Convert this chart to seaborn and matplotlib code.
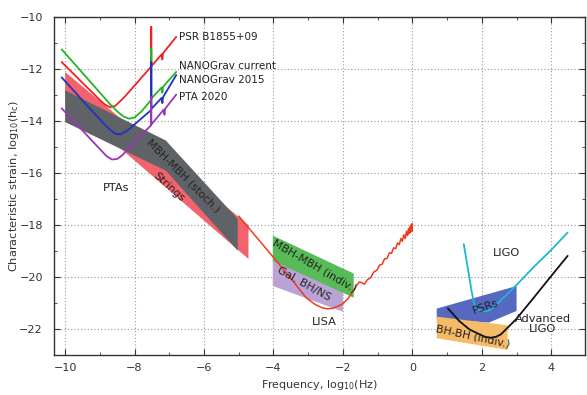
import numpy as np
import pandas as pd
import matplotlib
matplotlib.use("Agg")
import matplotlib.pyplot as plt
import seaborn as sns
from matplotlib.ticker import MultipleLocator

### gravitational wave spectrum: log10(f) vs log10(hc)

# PTA sensitivity curves
psr_x = [-10.1, -9.4, -9.0, -8.85, -8.7, -8.55, -8.3, -7.525, -7.52, -7.515, -7.22, -7.2, -7.18, -6.8]
psr_y = [-11.72, -12.65, -13.18, -13.36, -13.46, -13.4, -13.08, -11.9, -10.36, -11.88, -11.42, -11.62, -11.38, -10.75]

ng_cur_x = [-10.1, -9.3, -8.7, -8.45, -8.3, -8.15, -8.0, -7.8, -7.525, -7.52, -7.515, -7.22, -7.2, -7.18, -6.8]
ng_cur_y = [-11.23, -12.44, -13.35, -13.68, -13.83, -13.9, -13.85, -13.62, -13.18, -11.19, -13.12, -12.7, -12.9, -12.67, -12.1]

ng15_x = [-10.1, -9.3, -8.9, -8.7, -8.55, -8.4, -8.2, -7.525, -7.52, -7.515, -7.22, -7.2, -7.18, -6.8]
ng15_y = [-12.31, -13.49, -14.07, -14.33, -14.48, -14.5, -14.35, -13.57, -11.71, -13.52, -13.1, -13.3, -13.07, -12.22]

pta20_x = [-10.1, -9.3, -9.0, -8.8, -8.65, -8.5, -8.35, -7.525, -7.52, -7.515, -7.16, -7.14, -7.12, -6.8]
pta20_y = [-13.5, -14.64, -15.07, -15.35, -15.47, -15.45, -15.3, -14.15, -13.06, -14.12, -13.55, -13.75, -13.52, -12.97]

# LISA sensitivity curve
lisa_x = [-5.0, -4.0, -3.5, -3.06, -2.8, -2.6, -2.45, -2.3, -2.15, -2.0, -1.85, -1.7, -1.6, -1.52, -1.45, -1.38,
          -1.3, -1.2, -1.12, -1.02, -0.95, -0.87, -0.8, -0.73, -0.66, -0.6, -0.54, -0.48, -0.43, -0.38, -0.33,
          -0.29, -0.25, -0.21, -0.17, -0.14, -0.11, -0.09, -0.07, -0.05, -0.04, -0.03, -0.02, -0.01, 0.0]
lisa_y = [-17.65, -19.24, -20.05, -20.79, -21.05, -21.18, -21.22, -21.2, -21.12, -21.02, -20.82, -20.53, -20.3, -20.18, -20.22, -20.27,
          -20.10, -20.02, -19.81, -19.73, -19.54, -19.50, -19.29, -19.28, -19.06, -19.08, -18.87, -18.90, -18.68, -18.75, -18.51,
          -18.62, -18.37, -18.51, -18.23, -18.40, -18.13, -18.33, -18.06, -18.27, -17.99, -18.24, -17.95, -18.22, -17.96]

# ground based detectors
ligo_x = [1.48, 1.6, 1.7, 1.78, 1.88, 2.0, 2.15, 2.3, 2.5, 3.0, 3.5, 4.0, 4.47]
ligo_y = [-18.73, -19.7, -20.5, -21.05, -21.25, -21.3, -21.32, -21.2, -20.95, -20.3, -19.6, -18.95, -18.28]

aligo_x = [1.02, 1.35, 1.64, 1.93, 2.1, 2.26, 2.4, 2.55, 3.0, 3.5, 4.0, 4.47]
aligo_y = [-21.2, -21.69, -22.01, -22.2, -22.3, -22.33, -22.3, -22.2, -21.6, -20.78, -19.95, -19.18]

# source regions (polygons)
strings_x = [-10.0, -4.72, -4.72, -10.0]
strings_y = [-12.1, -18.0, -19.3, -13.2]
stoch_x = [-10.0, -7.1, -5.03, -5.03, -7.1, -10.0]
stoch_y = [-12.81, -14.74, -17.76, -18.98, -15.9, -14.03]
galbh_x = [-4.02, -2.0, -2.0, -4.02]
galbh_y = [-19.3, -20.3, -21.33, -20.34]
indiv_x = [-4.02, -1.69, -1.69, -4.02]
indiv_y = [-18.4, -19.86, -20.79, -19.37]
psrs_x = [0.70, 3.0, 3.0, 2.2, 0.70]
psrs_y = [-21.21, -20.34, -21.3, -21.75, -21.6]
bhbh_x = [0.70, 2.74, 2.74, 0.70]
bhbh_y = [-21.52, -21.85, -22.8, -22.35]

sns.set_style("ticks")
plt.rcParams['font.family'] = ['DejaVu Sans']

fig = plt.figure(figsize=(5.87, 3.95), dpi=100)
ax = fig.add_axes([0.092, 0.101, 0.9046, 0.855])

# bands
ax.fill(strings_x, strings_y, color='#f2636d', lw=0, zorder=1)
ax.fill(stoch_x, stoch_y, color='#5f6367', lw=0, zorder=2)
ax.fill(galbh_x, galbh_y, color='#bba3d5', lw=0, zorder=1)
ax.fill(indiv_x, indiv_y, color='#58bb58', lw=0, zorder=2)
ax.fill(psrs_x, psrs_y, color='#5668c0', lw=0, zorder=1)
ax.fill(bhbh_x, bhbh_y, color='#f5bb66', lw=0, zorder=2)

# curves
curves = [(psr_x, psr_y, '#ee2222', 1.3), (ng_cur_x, ng_cur_y, '#22b522', 1.3),
          (ng15_x, ng15_y, '#2233bb', 1.3), (pta20_x, pta20_y, '#9b35b8', 1.3),
          (lisa_x, lisa_y, '#f03a1e', 1.1), (ligo_x, ligo_y, '#1cb8d0', 1.3),
          (aligo_x, aligo_y, '#111111', 1.3)]
for cx, cy, col, w in curves:
    df = pd.DataFrame({'f': cx, 'h': cy})
    sns.lineplot(data=df, x='f', y='h', sort=False, estimator=None, color=col, lw=w, ax=ax, zorder=3)

# labels
tc = '#222222'
fs = 7.8
for txt, yy in [('PSR B1855+09', -10.75), ('NANOGrav current', -11.86), ('NANOGrav 2015', -12.41), ('PTA 2020', -13.06)]:
    ax.text(-6.71, yy, txt, ha='left', va='center', fontsize=7.5, color=tc)
ax.text(-8.54, -16.55, 'PTAs', ha='center', va='center', fontsize=8.2, color=tc)
ax.text(-6.6, -16.1, 'MBH-MBH (stoch.)', ha='center', va='center', fontsize=fs, color=tc, rotation=-45, rotation_mode='anchor', zorder=4)
ax.text(-7.0, -16.52, 'Strings', ha='center', va='center', fontsize=fs, color=tc, rotation=-42, rotation_mode='anchor', zorder=4)
ax.text(-2.82, -19.57, 'MBH-MBH (indiv.)', ha='center', va='center', fontsize=fs, color=tc, rotation=-30, rotation_mode='anchor', zorder=4)
ax.text(-3.11, -20.27, 'Gal. BH/NS', ha='center', va='center', fontsize=fs, color=tc, rotation=-29, rotation_mode='anchor', zorder=4)
ax.text(-2.54, -21.72, 'LISA', ha='center', va='center', fontsize=8.2, color=tc)
ax.text(2.70, -19.06, 'LIGO', ha='center', va='center', fontsize=8.2, color=tc)
ax.text(2.12, -21.14, 'PSRs', ha='center', va='center', fontsize=fs, color=tc, rotation=19, rotation_mode='anchor', zorder=4)
ax.text(1.74, -22.3, 'BH-BH (indiv.)', ha='center', va='center', fontsize=fs, color=tc, rotation=-12, rotation_mode='anchor', zorder=4)
ax.text(3.75, -21.81, 'Advanced\nLIGO', ha='center', va='center', fontsize=8.2, color=tc, linespacing=1.0)

ax.set_xlim(-10.32, 4.97)
ax.set_ylim(-23, -10)
ax.xaxis.set_major_locator(MultipleLocator(2))
ax.xaxis.set_minor_locator(MultipleLocator(1))
ax.yaxis.set_major_locator(MultipleLocator(2))
ax.yaxis.set_minor_locator(MultipleLocator(1))
ax.grid(True, which='major', color='#999999', linestyle=(0, (1, 2)), lw=0.8)
ax.set_axisbelow(True)
ax.tick_params(which='both', direction='in', top=True, right=True, colors='#333333', labelsize=8, labelcolor='#333333')
ax.tick_params(which='major', length=4)
ax.tick_params(axis='x', which='major', pad=6)
ax.tick_params(axis='y', which='major', pad=8)
ax.tick_params(which='minor', length=2.5)
for sp in ax.spines.values():
    sp.set_color('#333333')
    sp.set_linewidth(1.0)
ax.set_xlabel(r'Frequency, log$_{10}$(Hz)', fontsize=8, color='#333333', labelpad=3)
ax.set_ylabel(r'Characteristic strain, log$_{10}$(h$_\mathrm{c}$)', fontsize=8.2, color='#333333')
ax.yaxis.set_label_coords(-0.062, 0.5)

fig.savefig('out.png', dpi=100)
